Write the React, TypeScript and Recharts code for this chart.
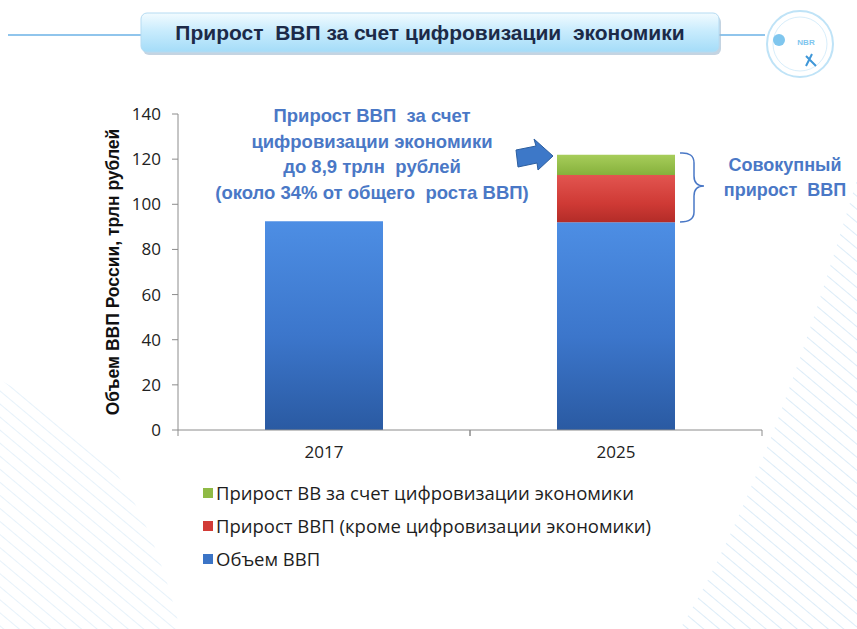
import { Bar, BarChart, Legend, XAxis, YAxis } from 'recharts'

const years = ['2017', '2025']
const gdpVolume = [92.5, 92]
const growthOther = [0, 21]
const growthDigital = [0, 9]
const yTicks = [0, 20, 40, 60, 80, 100, 120, 140]

const seriesNames = {
  base: 'Объем ВВП',
  other: 'Прирост ВВП (кроме цифровизации экономики)',
  digital: 'Прирост ВВ за счет цифровизации экономики',
}

const data = years.map((year, i) => ({
  year,
  base: gdpVolume[i],
  other: growthOther[i],
  digital: growthDigital[i],
}))

const legendColors: Record<string, string> = {
  base: '#3b74c6',
  other: '#d23b36',
  digital: '#8fba45',
}
const legendOrder = ['digital', 'other', 'base']

function XTick(props: any) {
  const { x, y, payload } = props
  const half = 146
  return (
    <g>
      <line x1={x - half} x2={x - half} y1={y - 8} y2={y - 2} stroke="#8c8c8c" />
      <line x1={x + half} x2={x + half} y1={y - 8} y2={y - 2} stroke="#8c8c8c" />
      <text x={x} y={y + 20} textAnchor="middle" fontSize={17} fill="#222" fontFamily="'Open Sans', sans-serif">
        {payload.value}
      </text>
    </g>
  )
}

function LegendList({ payload }: any) {
  const items = legendOrder
    .map((k) => (payload || []).find((p: any) => p.dataKey === k))
    .filter(Boolean)
  return (
    <div style={{ fontFamily: "'Open Sans', sans-serif", fontSize: 18.5, color: '#1d1d1d' }}>
      {items.map((p: any) => (
        <div key={p.dataKey} style={{ display: 'flex', alignItems: 'center', height: 33 }}>
          <span
            style={{
              width: 10,
              height: 10,
              marginRight: 3,
              background: legendColors[p.dataKey],
              display: 'inline-block',
            }}
          />
          {p.value}
        </div>
      ))}
    </div>
  )
}

export default function App() {
  return (
    <div
      style={{
        position: 'absolute',
        left: 0,
        top: 0,
        width: 857,
        height: 629,
        background: '#fff',
        overflow: 'hidden',
        fontFamily: "'Open Sans', sans-serif",
      }}
    >
      {/* decoration: stripes, title box, logo */}
      <svg width={857} height={629} style={{ position: 'absolute', left: 0, top: 0 }}>
        <defs>
          <pattern id="stripes" width="10" height="10" patternUnits="userSpaceOnUse" patternTransform="rotate(-50)">
            <line x1="0" y1="0" x2="0" y2="10" stroke="#dcecf8" strokeWidth="2" />
          </pattern>
          <linearGradient id="titleFill" x1="0" y1="0" x2="0" y2="1">
            <stop offset="0%" stopColor="#f2fbff" />
            <stop offset="45%" stopColor="#c9ecfd" />
            <stop offset="100%" stopColor="#a4dcf8" />
          </linearGradient>
        </defs>
        <path d="M680 629 C760 500 820 300 857 180 L857 629 Z" fill="url(#stripes)" />
        <path d="M0 629 L0 380 C90 430 140 470 180 629 Z" fill="url(#stripes)" opacity={0.7} />
        <line x1={8} y1={35} x2={142} y2={35} stroke="#6bb2e6" strokeWidth={1.5} />
        <line x1={718} y1={35} x2={765} y2={35} stroke="#6bb2e6" strokeWidth={1.5} />
        <rect x={141} y={13} width={578} height={39} rx={6} fill="#9cb7cf" opacity={0.6} transform="translate(2 3)" />
        <rect x={141} y={13} width={578} height={39} rx={6} fill="url(#titleFill)" stroke="#b5dbf2" />
        <circle cx={800} cy={44} r={33} fill="#fff" stroke="#bfe3f7" strokeWidth={2} />
        <circle cx={800} cy={44} r={27} fill="none" stroke="#d8eefb" strokeWidth={1} />
        <circle cx={779} cy={40} r={6} fill="#7fc6ee" />
        <text x={806} y={45} fontSize={8} fill="#7fc6ee" textAnchor="middle" fontFamily="'Liberation Sans', sans-serif" fontWeight="bold">
          NBR
        </text>
        <path d="M806 56 L816 66 M812 54 L806 66" stroke="#3f97d8" strokeWidth={2} />
      </svg>
      <div
        style={{
          position: 'absolute',
          left: 141,
          top: 13,
          width: 578,
          height: 39,
          lineHeight: '39px',
          textAlign: 'center',
          fontFamily: "'Liberation Sans Narrow', 'Liberation Sans', sans-serif",
          fontWeight: 'bold',
          fontSize: 21,
          color: '#1c2a48',
        }}
      >
        Прирост&nbsp; ВВП за счет цифровизации&nbsp; экономики
      </div>

      <div style={{ position: 'absolute', left: 0, top: 0 }}>
        <BarChart
          width={857}
          height={629}
          data={data}
          margin={{ top: 114, right: 95, left: 0, bottom: 169 }}
          barSize={118}
        >
          <defs>
            <linearGradient id="gBlue" x1="0" y1="0" x2="0" y2="1">
              <stop offset="0%" stopColor="#4d8ee4" />
              <stop offset="55%" stopColor="#3c76cb" />
              <stop offset="100%" stopColor="#2a5aa2" />
            </linearGradient>
            <linearGradient id="gRed" x1="0" y1="0" x2="0" y2="1">
              <stop offset="0%" stopColor="#e25550" />
              <stop offset="60%" stopColor="#cf3a35" />
              <stop offset="100%" stopColor="#b32c28" />
            </linearGradient>
            <linearGradient id="gGreen" x1="0" y1="0" x2="0" y2="1">
              <stop offset="0%" stopColor="#a7cd5a" />
              <stop offset="100%" stopColor="#86b13c" />
            </linearGradient>
          </defs>
          <XAxis
            dataKey="year"
            stroke="#8c8c8c"
            tickLine={false}
            tick={<XTick />}
            height={30}
            interval={0}
          />
          <YAxis
            width={178}
            domain={[0, 140]}
            ticks={yTicks}
            stroke="#8c8c8c"
            tickSize={6}
            tickMargin={11}
            tick={{ fontSize: 17, fill: '#222', fontFamily: "'Open Sans', sans-serif" }}
            label={{
              value: 'Объем ВВП России, трлн рублей',
              angle: -90,
              position: 'insideLeft',
              dx: 108,
              dy: 0,
              style: {
                textAnchor: 'middle',
                fontFamily: "'Liberation Sans Narrow', 'Liberation Sans', sans-serif",
                fontWeight: 'bold',
                fontSize: 17.5,
                fill: '#111',
              },
            }}
          />
          <Legend
            layout="vertical"
            align="center"
            verticalAlign="middle"
            wrapperStyle={{ left: 203, top: 476, width: 500 }}
            content={<LegendList />}
          />
          <Bar dataKey="base" name={seriesNames.base} stackId="gdp" fill="url(#gBlue)" isAnimationActive={false} />
          <Bar dataKey="other" name={seriesNames.other} stackId="gdp" fill="url(#gRed)" isAnimationActive={false} />
          <Bar dataKey="digital" name={seriesNames.digital} stackId="gdp" fill="url(#gGreen)" isAnimationActive={false} />
        </BarChart>
      </div>

      {/* annotations */}
      <div
        style={{
          position: 'absolute',
          left: 192,
          top: 103,
          width: 360,
          textAlign: 'center',
          fontFamily: "'Liberation Sans Narrow', 'Liberation Sans', sans-serif",
          fontWeight: 'bold',
          fontSize: 18.5,
          lineHeight: '25.5px',
          color: '#4a78c6',
        }}
      >
        Прирост ВВП&nbsp; за счет
        <br />
        цифровизации экономики
        <br />
        до 8,9 трлн&nbsp; рублей
        <br />
        (около 34% от общего&nbsp; роста ВВП)
      </div>
      <div
        style={{
          position: 'absolute',
          left: 715,
          top: 153,
          width: 140,
          textAlign: 'center',
          fontFamily: "'Liberation Sans Narrow', 'Liberation Sans', sans-serif",
          fontWeight: 'bold',
          fontSize: 18,
          lineHeight: '25px',
          color: '#4a78c6',
        }}
      >
        Совокупный
        <br />
        прирост&nbsp; ВВП
      </div>
      <svg width={857} height={629} style={{ position: 'absolute', left: 0, top: 0, pointerEvents: 'none' }}>
        <path
          d="M516 150 L536 146 L534 139 L553 156 L538 170 L537 163 L518 167 Z"
          fill="#3d78c8"
          stroke="#2c5e9f"
          strokeWidth={1}
        />
        <path
          d="M680 153 Q694 152 694 163 L694 176 Q694 186 704 186 Q694 186 694 196 L694 212 Q694 222 680 222"
          fill="none"
          stroke="#4a78c6"
          strokeWidth={1.5}
        />
      </svg>
    </div>
  )
}
